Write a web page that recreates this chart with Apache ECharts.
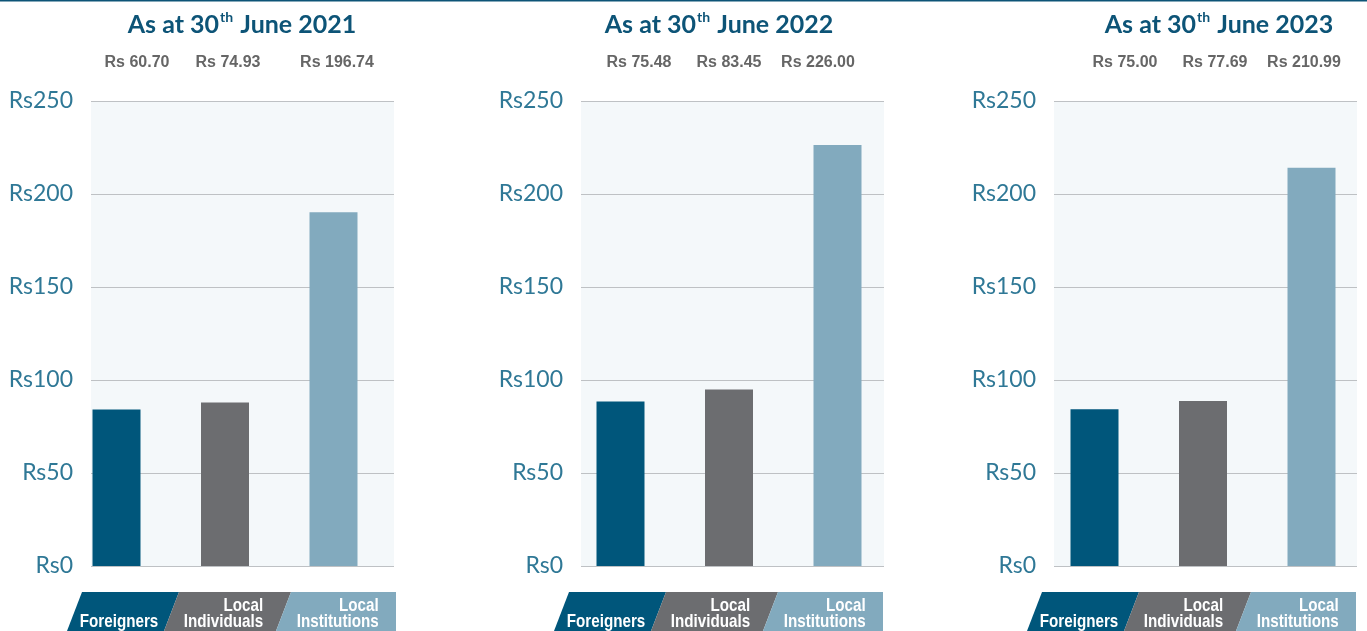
<!DOCTYPE html>
<html>
<head>
<meta charset="utf-8">
<script src="https://cdn.jsdelivr.net/npm/echarts@6/dist/echarts.min.js"></script>
<style>
html,body{margin:0;padding:0;background:#fff;}
#chart{width:1367px;height:631px;}
</style>
</head>
<body>
<div id="chart"></div>
<script>
// data
var years = ['2021', '2022', '2023'];
var categories = ['Foreigners', 'Local\nIndividuals', 'Local\nInstitutions'];
var foreigners = [84.2, 88.4, 84.3];
var individuals = [87.9, 94.9, 88.7];
var institutions = [190.2, 226.4, 214.1];
var priceLabels = [
  ['Rs 60.70', 'Rs 74.93', 'Rs 196.74'],
  ['Rs 75.48', 'Rs 83.45', 'Rs 226.00'],
  ['Rs 75.00', 'Rs 77.69', 'Rs 210.99']
];
var yTicks = [0, 50, 100, 150, 200, 250];

// layout
var frameLeft = [91, 581, 1054];
var firstBar = [120, 624, 1098];
var titleCenter = [237, 714, 1214];
var priceCenter = [[137, 228, 337], [639, 729, 818], [1125, 1215, 1304]];
var badgeLeft = [82, 569, 1042];
var badgeWidth = [97, 112, 105];
var colors = ['#00567B', '#6C6D70', '#82AABE'];

var TEAL = '#2F7896';
var NAVY = '#0D5477';

var ctx = document.createElement('canvas').getContext('2d');
function textWidth(s, font) {
  ctx.font = font;
  var w = 0;
  s.split('\n').forEach(function (l) { w = Math.max(w, ctx.measureText(l).width); });
  return w;
}
var badgeFont = 'bold 19px Arial, "Liberation Sans", sans-serif';
var squeeze = 0.8;

var myChart = echarts.init(document.getElementById('chart'));

var grid = [], xAxis = [], yAxis = [], series = [], title = [], graphic = [];

graphic.push({
  type: 'line', shape: {x1: 0, y1: 0.5, x2: 1367, y2: 0.5},
  style: {stroke: NAVY, lineWidth: 2}
});

for (var i = 0; i < 3; i++) {
  var fi = 2 * i, bi = 2 * i + 1;
  // frame with gridlines and tick labels
  grid.push({left: frameLeft[i], width: 303, top: 101, height: 465,
    show: true, backgroundColor: '#F4F8FA', borderWidth: 0});
  xAxis.push({gridIndex: fi, type: 'category', data: categories, show: false});
  yAxis.push({gridIndex: fi, type: 'value', min: yTicks[0], max: yTicks[yTicks.length - 1], interval: 50,
    axisLine: {show: false}, axisTick: {show: false},
    axisLabel: {formatter: 'Rs{value}', margin: 18, color: TEAL, fontSize: 23, fontFamily: 'Lato'},
    splitLine: {lineStyle: {color: '#BEC1C4', width: 1}}
  });

  // bars
  grid.push({left: firstBar[i] - 3.5 - 54.25, width: 325.5, top: 101, height: 465});
  xAxis.push({gridIndex: bi, type: 'category', data: categories, show: false});
  yAxis.push({gridIndex: bi, type: 'value', min: 0, max: 250, show: false, splitLine: {show: false}});
  series.push({
    type: 'bar', xAxisIndex: bi, yAxisIndex: bi, barWidth: 48,
    data: [foreigners[i], individuals[i], institutions[i]].map(function (v, k) {
      return {value: v, itemStyle: {color: colors[k]}};
    })
  });

  title.push({
    text: '{a|As at 30}{s|th}{a| June ' + years[i] + '}',
    left: titleCenter[i], top: 5, textAlign: 'center',
    textStyle: {
      rich: {
        a: {fontFamily: 'Lato', fontWeight: 'bold', fontSize: 25, color: NAVY, lineHeight: 30},
        s: {fontFamily: 'Lato', fontWeight: 'bold', fontSize: 14, color: NAVY, lineHeight: 30, verticalAlign: 'top', padding: [0, 1, 0, 1]}
      }
    }
  });

  for (var j = 0; j < 3; j++) {
    graphic.push({
      type: 'text', x: priceCenter[i][j], y: 63,
      style: {text: priceLabels[i][j], fill: '#666666', font: 'bold 16px Arial, "Liberation Sans", sans-serif',
        textAlign: 'center', textVerticalAlign: 'middle'}
    });
  }

  // badges
  var x = badgeLeft[i];
  for (var j = 0; j < 3; j++) {
    var xl = x, xr = x + badgeWidth[j];
    var pts = j < 2
      ? [[xl, 592], [xr, 592], [xr - 15, 631], [xl - 15, 631]]
      : [[xl, 592], [xr, 592], [xr, 631], [xl - 15, 631]];
    graphic.push({type: 'polygon', shape: {points: pts}, style: {fill: colors[j]}});
    var mid = (xl + xr) / 2 - 11.5;
    if (j == 2) mid = (xl - 11.5 + xr) / 2;
    var w = textWidth(categories[j], badgeFont) * squeeze;
    var lines = categories[j].split('\n').length;
    graphic.push({
      type: 'text', x: mid + w / 2, y: lines > 1 ? 614 : 622, scaleX: squeeze,
      style: {text: categories[j], fill: '#fff', font: badgeFont, lineHeight: 16,
        textAlign: 'right', textVerticalAlign: 'middle'}
    });
    x = xr;
  }
}

option = {
  backgroundColor: '#FFFFFF',
  animation: false,
  title: title,
  grid: grid,
  xAxis: xAxis,
  yAxis: yAxis,
  series: series,
  graphic: graphic
};
myChart.setOption(option);
</script>
</body>
</html>
